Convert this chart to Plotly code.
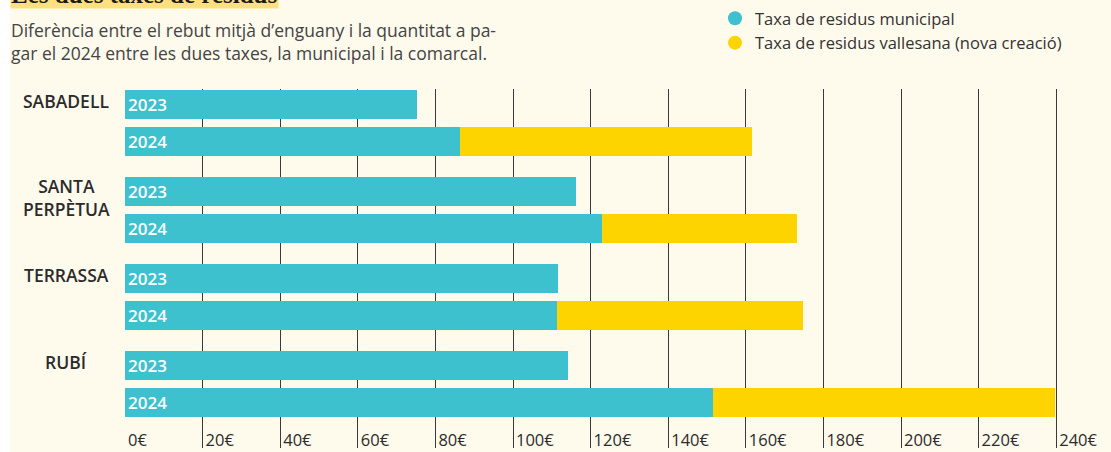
import plotly.graph_objects as go

# ---------------- data ----------------
cities = ["SABADELL", "SANTA<br>PERPÈTUA", "TERRASSA", "RUBÍ"]
years = ["2023", "2024"]
municipal_2023 = [75.2, 116.2, 111.6, 114.2]
municipal_2024 = [86.3, 122.9, 111.3, 151.5]
vallesana_2024 = [75.3, 50.3, 63.4, 88.2]
tick_values = [0, 20, 40, 60, 80, 100, 120, 140, 160, 180, 200, 220, 240]
tick_labels = [f"{v}€" for v in tick_values]
legend_names = ["Taxa de residus municipal", "Taxa de residus vallesana (nova creació)"]
title_text = "Les dues taxes de residus"
subtitle_lines = ["Diferència entre el rebut mitjà d’enguany i la quantitat a pa-",
                  "gar el 2024 entre les dues taxes, la municipal i la comarcal."]

# ---------------- layout constants ----------------
W, H = 1111, 452
ML, MR, MT, MB = 125, 0, 89, 4
PW, PH = W - ML - MR, H - MT - MB
PX_PER_EUR = 3.88
ROW_PX = 37.5            # pixel distance between 2023 and 2024 rows
GROUP_STEP = 87 / ROW_PX  # distance between cities in row units
BAR_W = 29 / ROW_PX
Y_TOP = -15 / ROW_PX

TEAL = "#3DC1CE"
YELLOW = "#FDD400"
CREAM = "#FEFAEC"
TEXT = "#2B2B2B"
FONT = "'Open Sans', Lato, sans-serif"

def px_x(px):
    return (px - ML) / PW

def px_y(py):
    return (H - MB - py) / PH

# row positions
pos = {}
for gi, c in enumerate(cities):
    for yi, yr in enumerate(years):
        pos[(gi, yi)] = gi * GROUP_STEP + yi

mun_y, mun_x, mun_text = [], [], []
for gi in range(len(cities)):
    mun_y += [pos[(gi, 0)], pos[(gi, 1)]]
    mun_x += [municipal_2023[gi], municipal_2024[gi]]
    mun_text += years
val_y = [pos[(gi, 1)] for gi in range(len(cities))]

fig = go.Figure()
fig.add_trace(go.Bar(
    orientation="h", y=mun_y, x=mun_x, width=BAR_W,
    marker=dict(color=TEAL, line=dict(width=0)),
    text=mun_text, textposition="inside", insidetextanchor="start",
    textfont=dict(color="white", size=17, family=FONT, weight=600),
    showlegend=False, hoverinfo="skip",
))
fig.add_trace(go.Bar(
    orientation="h", y=val_y, x=vallesana_2024, width=BAR_W,
    marker=dict(color=YELLOW, line=dict(width=0)),
    showlegend=False, hoverinfo="skip",
))
for name, col in zip(legend_names, [TEAL, YELLOW]):
    fig.add_trace(go.Scatter(
        x=[None], y=[None], mode="markers", name=name,
        marker=dict(color=col, size=14, symbol="circle"),
    ))

annotations = []
# city labels
for gi, c in enumerate(cities):
    yv = pos[(gi, 0)] + (0.17 if "<br>" in c else -0.08)
    annotations.append(dict(
        x=px_x(66), xref="paper", y=yv, yref="y", text=c, showarrow=False,
        xanchor="center", yanchor="middle", align="center",
        font=dict(size=17.5, color=TEXT, family=FONT, weight=600),
    ))
# title (cut off at the top, highlighted)
annotations.append(dict(
    x=px_x(10), xref="paper", y=px_y(9), yref="paper", text=f"<b>{title_text}</b>",
    showarrow=False, xanchor="left", yanchor="bottom", bgcolor="#FFE080",
    borderpad=0, font=dict(size=25, color="#1a1a1a", family="'Liberation Serif', serif"),
))
# subtitle
annotations.append(dict(
    x=px_x(9), xref="paper", y=px_y(41), yref="paper", text="<br>".join(subtitle_lines),
    showarrow=False, xanchor="left", yanchor="middle", align="left",
    font=dict(size=17.5, color="#444444", family=FONT),
))

shapes = [dict(type="rect", xref="paper", yref="paper", x0=px_x(0), x1=px_x(10),
               y0=px_y(H), y1=px_y(0), fillcolor="white", line=dict(width=0), layer="below")]

fig.update_layout(
    width=W, height=H, margin=dict(l=ML, r=MR, t=MT, b=MB, autoexpand=False),
    paper_bgcolor=CREAM, plot_bgcolor=CREAM,
    barmode="stack", bargap=0,
    font=dict(family=FONT, color=TEXT),
    showlegend=True,
    legend=dict(x=715 / W, xref="container", y=1 - 1 / H, yref="container",
                xanchor="left", yanchor="top", bgcolor="rgba(0,0,0,0)",
                traceorder="normal",
                font=dict(size=16.5, color="#333333", family=FONT),
                itemclick=False, itemdoubleclick=False, tracegroupgap=0),
    xaxis=dict(range=[0, PW / PX_PER_EUR], tickvals=tick_values, ticktext=tick_labels,
               showgrid=True, gridcolor="#3a3a3a", gridwidth=1, zeroline=False,
               showline=False, ticks="", ticklabelposition="inside right",
               ticklabelstandoff=-7, ticklabelshift=3,
               tickfont=dict(size=16.5, color=TEXT, family=FONT), fixedrange=True),
    yaxis=dict(range=[Y_TOP + PH / ROW_PX, Y_TOP], showgrid=False, zeroline=False,
               showticklabels=False, ticks="", showline=False, fixedrange=True),
    annotations=annotations, shapes=shapes,
)

fig.write_html("out.html", config={"displayModeBar": False},
               post_script="document.body.style.margin='0';document.body.style.padding='0';")
